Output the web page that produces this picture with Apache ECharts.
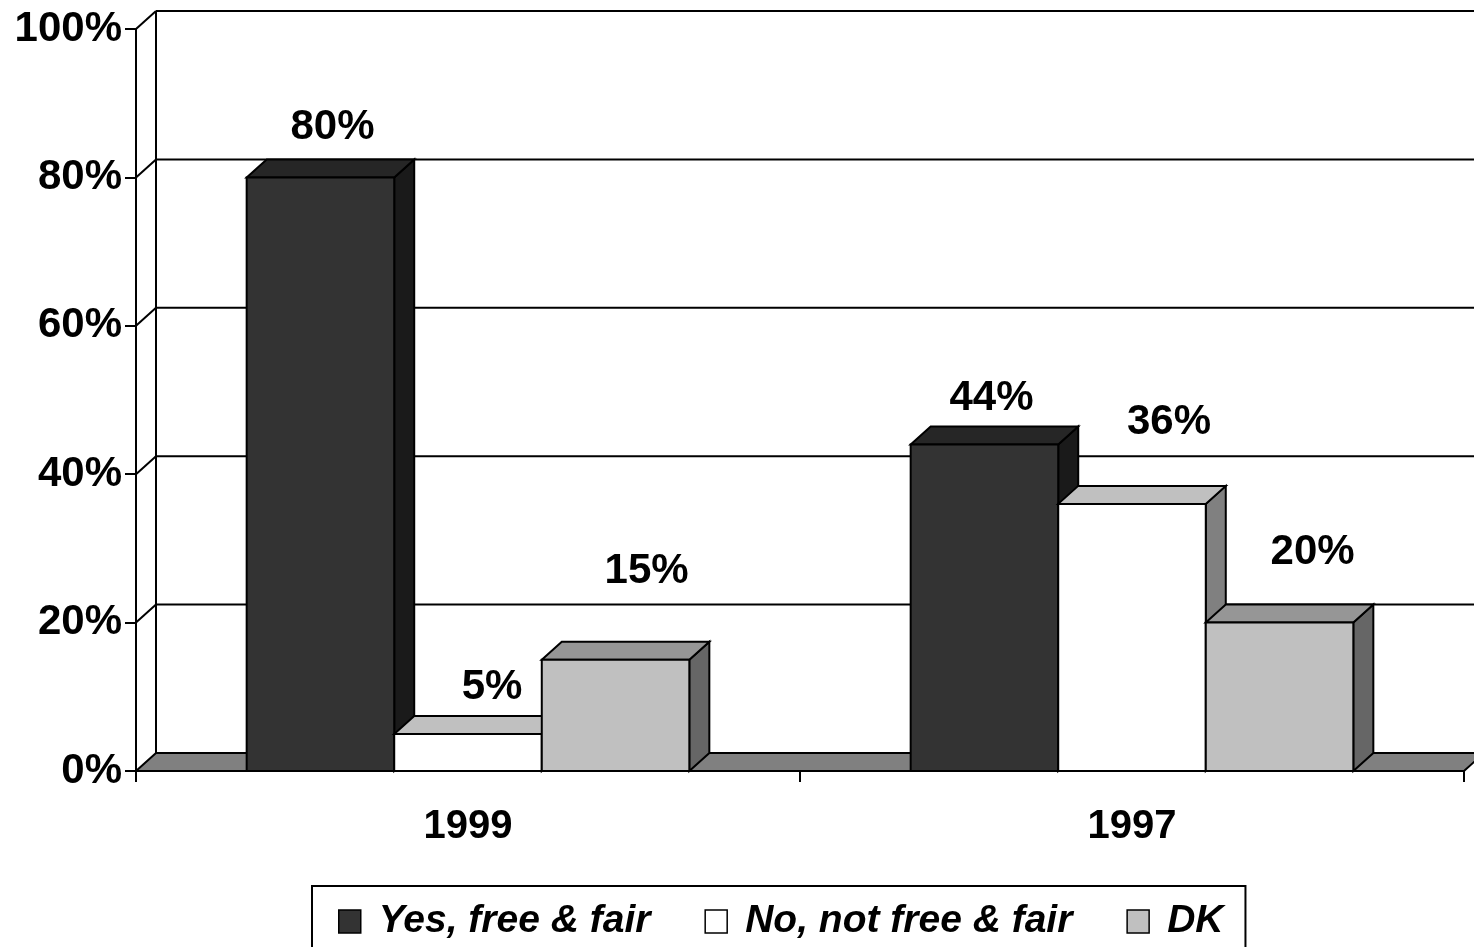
<!DOCTYPE html>
<html><head><meta charset="utf-8">
<script src="https://cdn.jsdelivr.net/npm/echarts@6/dist/echarts.min.js"></script>
<style>html,body{margin:0;padding:0;background:#fff}#c{width:1474px;height:947px}</style>
</head><body><div id="c"></div>
<script>
// ---- data ----
const categories = ['1999', '1997'];
const seriesNames = ['Yes, free & fair', 'No, not free & fair', 'DK'];
const yesValues = [80, 44];
const noValues = [5, 36];
const dkValues = [15, 20];
const yTicks = [0, 20, 40, 60, 80, 100];

// ---- style ----
const frontColors = ['#333333', '#ffffff', '#c0c0c0'];
const topColors = ['#262626', '#c0c0c0', '#969696'];
const sideColors = ['#1a1a1a', '#808080', '#666666'];
const DX = 20, DY = -18;
// per-label nudge [series][category] relative to the bar's back-top centre
const labelNudge = [[[2, -32], [-3, -28]], [[14, -28], [27, -63]], [[21, -70], [23, -52]]];
const mainFont = '"Liberation Sans", Arial, sans-serif';
const LS = { stroke: '#000', lineWidth: 2, lineJoin: 'miter' };

const chart = echarts.init(document.getElementById('c'), null, { renderer: 'canvas' });

function wallSeries() {
  return {
    type: 'custom', coordinateSystem: 'cartesian2d', silent: true,
    data: [[0, 0]],
    renderItem: function (params, api) {
      const cs = params.coordSys;
      const L = cs.x, R = cs.x + cs.width;
      const B = api.coord([0, 0])[1];
      const kids = [];
      kids.push({ type: 'polygon', shape: { points: [[L, B], [R, B], [R + DX, B + DY], [L + DX, B + DY]] }, style: Object.assign({ fill: '#808080' }, LS) });
      const yTop = api.coord([0, yTicks[yTicks.length - 1]])[1];
      kids.push({ type: 'line', shape: { x1: L + DX, y1: yTop + DY, x2: L + DX, y2: B + DY }, style: LS });
      yTicks.forEach(function (t) {
        if (t === 0) return;
        const y = api.coord([0, t])[1];
        kids.push({ type: 'line', shape: { x1: L + DX, y1: y + DY, x2: R + DX, y2: y + DY }, style: LS });
        kids.push({ type: 'line', shape: { x1: L, y1: y, x2: L + DX, y2: y + DY }, style: LS });
      });
      return { type: 'group', children: kids };
    }
  };
}

function barSeries(si, values) {
  return {
    type: 'custom', name: seriesNames[si], coordinateSystem: 'cartesian2d',
    itemStyle: { color: frontColors[si], borderColor: '#000', borderWidth: 1.5 },
    data: values.map(function (v, i) { return [i, v]; }),
    renderItem: function (params, api) {
      const ci = api.value(0), v = api.value(1);
      const c = api.coord([ci, v]);
      const base = api.coord([ci, 0]);
      const cw = api.size([1, 0])[0];
      const bw = cw / 4.5;
      const x0 = c[0] - 1.5 * bw + si * bw, x1 = x0 + bw;
      const yt = c[1], yb = base[1];
      const nd = labelNudge[si][ci];
      return {
        type: 'group', children: [
          { type: 'polygon', shape: { points: [[x1, yt], [x1 + DX, yt + DY], [x1 + DX, yb + DY], [x1, yb]] }, style: Object.assign({ fill: sideColors[si] }, LS) },
          { type: 'polygon', shape: { points: [[x0, yt], [x1, yt], [x1 + DX, yt + DY], [x0 + DX, yt + DY]] }, style: Object.assign({ fill: topColors[si] }, LS) },
          { type: 'rect', shape: { x: x0, y: yt, width: bw, height: yb - yt }, style: Object.assign({ fill: frontColors[si] }, LS) },
          { type: 'text', z2: 10, x: (x0 + x1) / 2 + DX / 2 + nd[0], y: yt + DY + nd[1],
            style: { text: v + '%', fontFamily: mainFont, fontWeight: 'bold', fontSize: 42, fill: '#000', align: 'center', verticalAlign: 'middle' } }
        ]
      };
    }
  };
}

const axisLineStyle = { color: '#000', width: 2 };

chart.setOption({
  animation: false,
  backgroundColor: '#fff',
  grid: { left: 136, right: 10, top: 29, bottom: 176, containLabel: false, outerBoundsMode: 'none' },
  xAxis: {
    type: 'category', data: categories,
    axisLine: { show: true, lineStyle: axisLineStyle },
    axisTick: { show: true, length: 11, lineStyle: axisLineStyle },
    axisLabel: { margin: 36, color: '#000', fontFamily: mainFont, fontWeight: 'bold', fontSize: 40 },
    splitLine: { show: false }
  },
  yAxis: {
    type: 'value', min: 0, max: 100, interval: 20,
    axisLine: { show: true, lineStyle: axisLineStyle },
    axisTick: { show: true, length: 11, lineStyle: axisLineStyle },
    axisLabel: { margin: 14, color: '#000', fontFamily: mainFont, fontWeight: 'bold', fontSize: 42, formatter: '{value}%' },
    splitLine: { show: false }
  },
  legend: {
    left: 312, top: 886, orient: 'horizontal',
    padding: [16, 22, 40, 26],
    borderColor: '#000', borderWidth: 2, borderRadius: 0,
    itemWidth: 22, itemHeight: 23, itemGap: 54, icon: 'rect',
    textStyle: { color: '#000', fontFamily: mainFont, fontStyle: 'italic', fontWeight: 'bold', fontSize: 39, padding: [0, 0, 0, 13] },
    data: seriesNames.map(function (n, i) { return { name: n, itemStyle: { color: frontColors[i], borderColor: '#000', borderWidth: 1.5 } }; })
  },
  series: [wallSeries(), barSeries(0, yesValues), barSeries(1, noValues), barSeries(2, dkValues)]
});
</script>
</body></html>
